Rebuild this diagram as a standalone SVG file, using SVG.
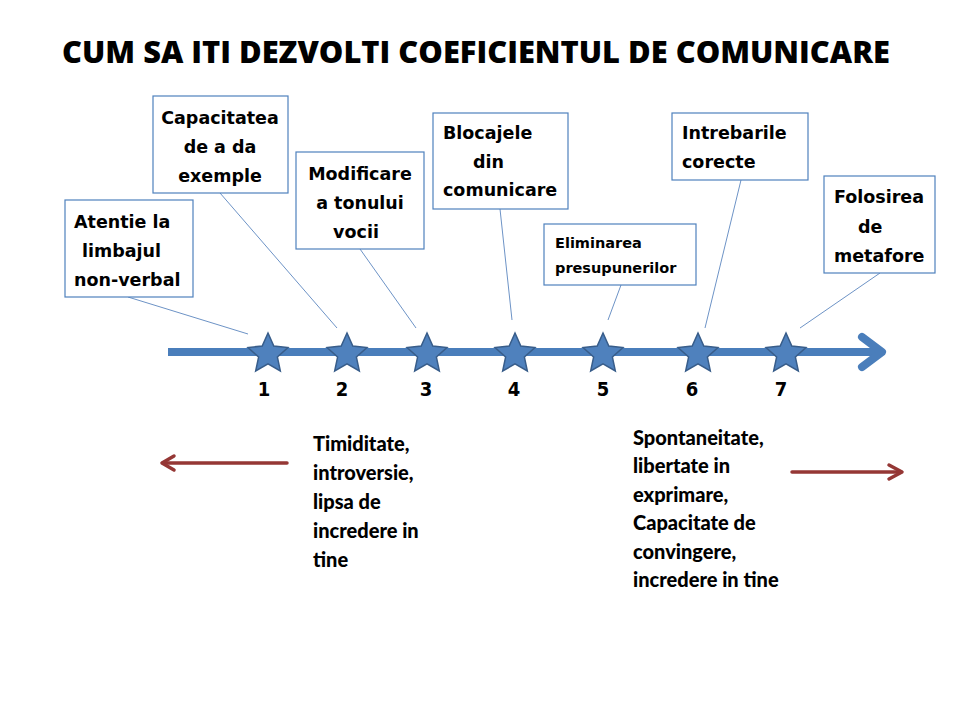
<svg xmlns="http://www.w3.org/2000/svg" width="960" height="720" viewBox="0 0 960 720">
<style>
.box{fill:#fff;stroke:#4f81bd;stroke-width:1.2}
.bt{font-family:"DejaVu Sans",Verdana,sans-serif;font-weight:bold;font-size:17.5px;fill:#000}
.sm{font-size:14.5px}
.c{text-anchor:middle}
.conn{stroke:#6d93c6;stroke-width:1;fill:none}
.num{font-family:"DejaVu Sans Condensed","DejaVu Sans",sans-serif;font-weight:bold;font-size:20px;text-anchor:middle;fill:#000}
.side{font-family:Lato,"Liberation Sans",sans-serif;font-weight:900;font-size:20px;fill:#000}
.red{stroke:#953735;stroke-width:3.5;fill:none;stroke-linecap:round;stroke-linejoin:round}
</style>
<defs>
<path id="star" d="M0,-21 L5.8,-8 L19.97,-6.49 L9.4,3.05 L12.34,16.99 L0,9.9 L-12.34,16.99 L-9.4,3.05 L-19.97,-6.49 L-5.8,-8 Z" fill="#4f81bd" stroke="#385d8a" stroke-width="1.5" stroke-linejoin="miter"/>
</defs>
<rect width="960" height="720" fill="#fff"/>
<text id="title" x="476" y="63" text-anchor="middle" font-family="'Open Sans','DejaVu Sans',sans-serif" font-weight="800" font-size="30" textLength="828" lengthAdjust="spacingAndGlyphs">CUM SA ITI DEZVOLTI COEFICIENTUL DE COMUNICARE</text>

<g id="connectors">
<line class="conn" x1="128" y1="297" x2="248" y2="334"/>
<line class="conn" x1="220" y1="193" x2="337" y2="328"/>
<line class="conn" x1="360" y1="249" x2="416" y2="328"/>
<line class="conn" x1="500" y1="209" x2="512" y2="320"/>
<line class="conn" x1="621" y1="285" x2="608" y2="320"/>
<line class="conn" x1="741" y1="180" x2="705" y2="328"/>
<line class="conn" x1="880" y1="273" x2="800" y2="328"/>
</g>

<g id="axis">
<line x1="168" y1="352" x2="880" y2="352" stroke="#4a7ebb" stroke-width="8"/>
<polyline points="862,337 882,352 862,367" fill="none" stroke="#4a7ebb" stroke-width="8" stroke-linecap="round" stroke-linejoin="round"/>
</g>

<g id="stars">
<use href="#star" x="268" y="354"/>
<use href="#star" x="347" y="354"/>
<use href="#star" x="427" y="354"/>
<use href="#star" x="515" y="354"/>
<use href="#star" x="603" y="354"/>
<use href="#star" x="698" y="354"/>
<use href="#star" x="786" y="354"/>
</g>

<g id="numbers">
<text class="num" x="264" y="396">1</text>
<text class="num" x="342" y="396">2</text>
<text class="num" x="426" y="396">3</text>
<text class="num" x="514" y="396">4</text>
<text class="num" x="603" y="396">5</text>
<text class="num" x="692" y="396">6</text>
<text class="num" x="781" y="396">7</text>
</g>

<g id="node1">
<rect class="box" x="65" y="200" width="128" height="97"/>
<text class="bt" x="74" y="228">Atentie la</text>
<text class="bt" x="82" y="257">limbajul</text>
<text class="bt" x="74" y="286">non-verbal</text>
</g>
<g id="node2">
<rect class="box" x="153" y="96" width="135" height="97"/>
<text class="bt c" x="220" y="124">Capacitatea</text>
<text class="bt c" x="220" y="153">de a da</text>
<text class="bt c" x="220" y="182">exemple</text>
</g>
<g id="node3">
<rect class="box" x="296" y="152" width="128" height="97"/>
<text class="bt c" x="360" y="180">Modificare</text>
<text class="bt c" x="360" y="209">a tonului</text>
<text class="bt c" x="356" y="238">vocii</text>
</g>
<g id="node4">
<rect class="box" x="433" y="113" width="135" height="96"/>
<text class="bt" x="443" y="139">Blocajele</text>
<text class="bt" x="473" y="168">din</text>
<text class="bt" x="443" y="196">comunicare</text>
</g>
<g id="node5">
<rect class="box" x="544" y="224" width="152" height="61"/>
<text class="bt sm" x="555" y="248">Eliminarea</text>
<text class="bt sm" x="555" y="273">presupunerilor</text>
</g>
<g id="node6">
<rect class="box" x="672" y="113" width="136" height="67"/>
<text class="bt" x="682" y="139">Intrebarile</text>
<text class="bt" x="682" y="168">corecte</text>
</g>
<g id="node7">
<rect class="box" x="824" y="176" width="111" height="97"/>
<text class="bt" x="834" y="203">Folosirea</text>
<text class="bt" x="858" y="233">de</text>
<text class="bt" x="834" y="262">metafore</text>
</g>

<g id="left-side">
<line class="red" x1="287" y1="463" x2="163" y2="463"/>
<polyline class="red" points="174,456 162,463 174,470"/>
<text class="side" x="313" y="451">Timiditate,</text>
<text class="side" x="313" y="480">introversie,</text>
<text class="side" x="313" y="509">lipsa de</text>
<text class="side" x="313" y="538">incredere in</text>
<text class="side" x="313" y="567">tine</text>
</g>
<g id="right-side">
<line class="red" x1="792" y1="472" x2="901" y2="472"/>
<polyline class="red" points="889,465 902,472 889,479"/>
<text class="side" x="633" y="445">Spontaneitate,</text>
<text class="side" x="633" y="473">libertate in</text>
<text class="side" x="633" y="502">exprimare,</text>
<text class="side" x="633" y="530">Capacitate de</text>
<text class="side" x="633" y="559">convingere,</text>
<text class="side" x="633" y="587">incredere in tine</text>
</g>
</svg>
